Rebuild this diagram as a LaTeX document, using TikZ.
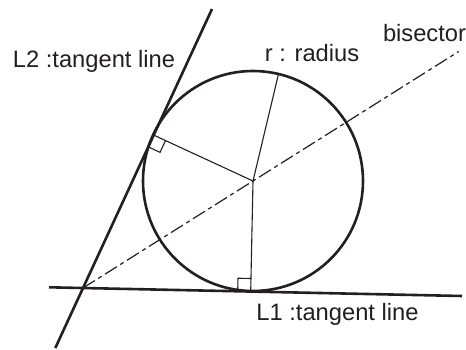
\documentclass[tikz,border=0pt]{standalone}
\usepackage{fontspec}
\setmainfont{Liberation Sans}
\usetikzlibrary{calc}
\definecolor{ink}{RGB}{35,31,32}
\begin{document}
\begin{tikzpicture}[x=1pt,y=-1pt,
  thickline/.style={draw=ink,line width=2.6pt},
  thinline/.style={draw=ink,line width=1.1pt},
  bisline/.style={draw=ink,line width=1.2pt,dash pattern=on 14pt off 4pt on 4pt off 4pt},
  lbl/.style={text=ink,font=\fontsize{23.7}{28}\selectfont,inner sep=0pt,anchor=base}]
\useasboundingbox (0,0) rectangle (466,350);
% key points
\coordinate (A) at (83,288);
\coordinate (O) at (253,181);
\coordinate (T1) at (250.7,291.5);
\coordinate (T2) at (153.7,135.1);
\coordinate (L1s) at (49,287.3);
\coordinate (L1e) at (462,296);
\coordinate (L2s) at (55.3,348);
\coordinate (L2e) at (212,9);
\coordinate (Be) at (458.7,51.5);
\coordinate (R) at (278.5,74);
% circle
\draw[thickline] (O) circle (110);
% tangent lines
\draw[thickline] (L1s) -- (L1e);
\draw[thickline] (L2s) -- (L2e);
% bisector
\draw[bisline] (A) -- (Be);
% radii
\draw[thinline] (O) -- (T1);
\draw[thinline] (O) -- (T2);
\draw[thinline] (O) -- (R);
% right angle marks
\draw[thinline] ($(T1)!13pt!(A)$) -- ($(T1)!13pt!(A)!13pt!90:(T1)$) -- ($(T1)!13pt!(O)$);
\draw[thinline] ($(T2)!13pt!(A)$) -- ($(T2)!13pt!(A)!13pt!-90:(T2)$) -- ($(T2)!13pt!(O)$);
% labels
\node[lbl] (l2) at (94,68) {L2 :tangent line};
\node[lbl] (rr) at (312,61.5) {r : radius};
\node[lbl] (bs) at (424.5,41.7) {bisector};
\node[lbl] (l1) at (337.5,320.7) {L1 :tangent line};
\end{tikzpicture}
\end{document}
